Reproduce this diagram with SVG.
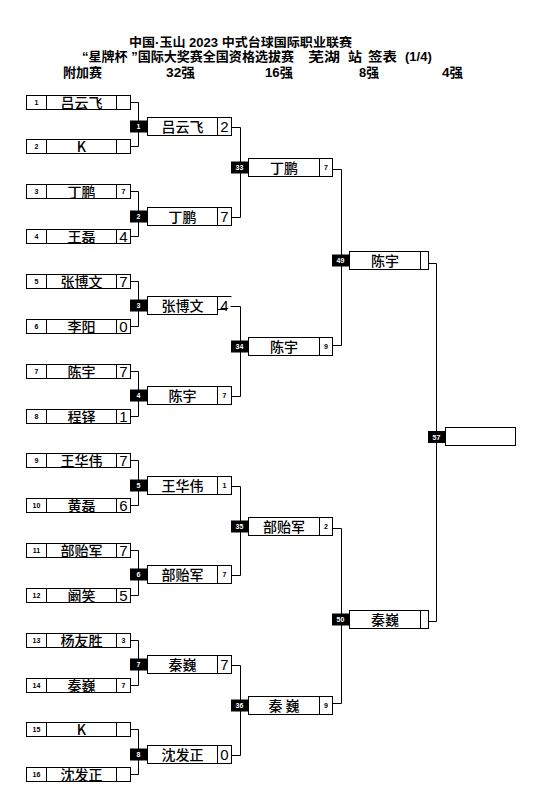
<svg xmlns="http://www.w3.org/2000/svg" width="543" height="793" viewBox="0 0 543 793">
<style>
.bx{fill:#fff;stroke:#000;stroke-width:1}
.ln{stroke:#000;stroke-width:1;fill:none}
.con{fill:none;stroke:#000;stroke-width:1}
.mb{fill:#000}
.mt{fill:#fff;font-family:"Liberation Sans",sans-serif;font-weight:bold;font-size:7px;text-anchor:middle}
.sd{fill:#000;font-family:"Liberation Sans",sans-serif;font-weight:bold;font-size:7px;text-anchor:middle}
.nm{fill:#000;font-family:"Noto Sans CJK SC",sans-serif;font-weight:500;font-size:14px;text-anchor:middle}
.sL{fill:#000;font-family:"Liberation Sans",sans-serif;font-size:15px;text-anchor:middle}
.sS{fill:#000;font-family:"Liberation Sans",sans-serif;font-weight:bold;font-size:7px;text-anchor:middle}
.hd{fill:#000;font-family:"Liberation Sans","Noto Sans CJK SC",sans-serif;font-weight:bold}
</style>
<rect width="543" height="793" fill="#fff"/>
<g id="header">
<text class="hd" x="240.5" y="46.5" font-size="12.5" text-anchor="middle" textLength="223" lengthAdjust="spacingAndGlyphs">中国·玉山 2023 中式台球国际职业联赛</text>
<text class="hd" x="82" y="61" font-size="13" textLength="212" lengthAdjust="spacingAndGlyphs">“星牌杯 ”国际大奖赛全国资格选拔赛</text>
<text class="hd" x="308" y="61" font-size="13" textLength="32" lengthAdjust="spacingAndGlyphs">芜湖</text>
<text class="hd" x="348" y="61" font-size="13" textLength="14" lengthAdjust="spacingAndGlyphs">站</text>
<text class="hd" x="368" y="61" font-size="13" textLength="29" lengthAdjust="spacingAndGlyphs">签表</text>
<text class="hd" x="405" y="61" font-size="13">(1/4)</text>
<text class="hd" x="63" y="76.5" font-size="13" textLength="39" lengthAdjust="spacingAndGlyphs">附加赛</text>
<text class="hd" x="166" y="76.5" font-size="13" textLength="29" lengthAdjust="spacingAndGlyphs">32强</text>
<text class="hd" x="265" y="76.5" font-size="13" textLength="28" lengthAdjust="spacingAndGlyphs">16强</text>
<text class="hd" x="359" y="76.5" font-size="13" textLength="20" lengthAdjust="spacingAndGlyphs">8强</text>
<text class="hd" x="442" y="76.5" font-size="13" textLength="21" lengthAdjust="spacingAndGlyphs">4强</text>
</g>
<g id="connectors">
<path class="con" d="M130.5 102.5H138.5V146.5H130.5"/>
<path class="con" d="M130.5 191.5H138.5V236.5H130.5"/>
<path class="con" d="M130.5 281.5H138.5V326.5H130.5"/>
<path class="con" d="M130.5 371.5H138.5V416.5H130.5"/>
<path class="con" d="M130.5 460.5H138.5V505.5H130.5"/>
<path class="con" d="M130.5 550.5H138.5V595.5H130.5"/>
<path class="con" d="M130.5 640.5H138.5V685.5H130.5"/>
<path class="con" d="M130.5 729.5H138.5V774.5H130.5"/>
<path class="con" d="M231.5 127.5H240.5V217.5H231.5"/>
<path class="con" d="M230.5 306.5H240.5V396.5H231.5"/>
<path class="con" d="M231.5 486.5H240.5V575.5H231.5"/>
<path class="con" d="M231.5 665.5H240.5V755.5H231.5"/>
<path class="con" d="M332.5 169.5H341.5V345.5H332.5"/>
<path class="con" d="M332.5 528.5H341.5V703.5H332.5"/>
<path class="con" d="M428.5 263.5H436.5V621.5H428.5"/>
</g>
<g id="p1"><rect class="bx" x="26.5" y="95.5" width="104" height="14"/><path class="ln" d="M46.5 95.5V109.5M116.5 95.5V109.5"/><text class="sd" x="36.5" y="105">1</text><text class="nm" x="81.5" y="107.5">吕云飞</text></g>
<g id="p2"><rect class="bx" x="26.5" y="139.5" width="104" height="14"/><path class="ln" d="M46.5 139.5V153.5M116.5 139.5V153.5"/><text class="sd" x="36.5" y="149">2</text><text class="nm" x="81.5" y="151.5">K</text></g>
<g id="p3"><rect class="bx" x="26.5" y="184.5" width="104" height="14"/><path class="ln" d="M46.5 184.5V198.5M116.5 184.5V198.5"/><text class="sd" x="36.5" y="194">3</text><text class="nm" x="81.5" y="196.5">丁鹏</text><text class="sS" x="123.5" y="194">7</text></g>
<g id="p4"><rect class="bx" x="26.5" y="229.5" width="104" height="14"/><path class="ln" d="M46.5 229.5V243.5M116.5 229.5V243.5"/><text class="sd" x="36.5" y="239">4</text><text class="nm" x="81.5" y="241.5">王磊</text><text class="sL" x="123.5" y="242">4</text></g>
<g id="p5"><rect class="bx" x="26.5" y="274.5" width="104" height="14"/><path class="ln" d="M46.5 274.5V288.5M116.5 274.5V288.5"/><text class="sd" x="36.5" y="284">5</text><text class="nm" x="81.5" y="286.5">张博文</text><text class="sL" x="123.5" y="287">7</text></g>
<g id="p6"><rect class="bx" x="26.5" y="319.5" width="104" height="14"/><path class="ln" d="M46.5 319.5V333.5M116.5 319.5V333.5"/><text class="sd" x="36.5" y="329">6</text><text class="nm" x="81.5" y="331.5">李阳</text><text class="sL" x="123.5" y="332">0</text></g>
<g id="p7"><rect class="bx" x="26.5" y="364.5" width="104" height="14"/><path class="ln" d="M46.5 364.5V378.5M116.5 364.5V378.5"/><text class="sd" x="36.5" y="374">7</text><text class="nm" x="81.5" y="376.5">陈宇</text><text class="sL" x="123.5" y="377">7</text></g>
<g id="p8"><rect class="bx" x="26.5" y="409.5" width="104" height="14"/><path class="ln" d="M46.5 409.5V423.5M116.5 409.5V423.5"/><text class="sd" x="36.5" y="419">8</text><text class="nm" x="81.5" y="421.5">程铎</text><text class="sL" x="123.5" y="422">1</text></g>
<g id="p9"><rect class="bx" x="26.5" y="453.5" width="104" height="14"/><path class="ln" d="M46.5 453.5V467.5M116.5 453.5V467.5"/><text class="sd" x="36.5" y="463">9</text><text class="nm" x="81.5" y="465.5">王华伟</text><text class="sL" x="123.5" y="466">7</text></g>
<g id="p10"><rect class="bx" x="26.5" y="498.5" width="104" height="14"/><path class="ln" d="M46.5 498.5V512.5M116.5 498.5V512.5"/><text class="sd" x="36.5" y="508">10</text><text class="nm" x="81.5" y="510.5">黄磊</text><text class="sL" x="123.5" y="511">6</text></g>
<g id="p11"><rect class="bx" x="26.5" y="543.5" width="104" height="14"/><path class="ln" d="M46.5 543.5V557.5M116.5 543.5V557.5"/><text class="sd" x="36.5" y="553">11</text><text class="nm" x="81.5" y="555.5">部贻军</text><text class="sL" x="123.5" y="556">7</text></g>
<g id="p12"><rect class="bx" x="26.5" y="588.5" width="104" height="14"/><path class="ln" d="M46.5 588.5V602.5M116.5 588.5V602.5"/><text class="sd" x="36.5" y="598">12</text><text class="nm" x="81.5" y="600.5">阚笑</text><text class="sL" x="123.5" y="601">5</text></g>
<g id="p13"><rect class="bx" x="26.5" y="633.5" width="104" height="14"/><path class="ln" d="M46.5 633.5V647.5M116.5 633.5V647.5"/><text class="sd" x="36.5" y="643">13</text><text class="nm" x="81.5" y="645.5">杨友胜</text><text class="sS" x="123.5" y="643">3</text></g>
<g id="p14"><rect class="bx" x="26.5" y="678.5" width="104" height="14"/><path class="ln" d="M46.5 678.5V692.5M116.5 678.5V692.5"/><text class="sd" x="36.5" y="688">14</text><text class="nm" x="81.5" y="690.5">秦巍</text><text class="sS" x="123.5" y="688">7</text></g>
<g id="p15"><rect class="bx" x="26.5" y="722.5" width="104" height="14"/><path class="ln" d="M46.5 722.5V736.5M116.5 722.5V736.5"/><text class="sd" x="36.5" y="732">15</text><text class="nm" x="81.5" y="734.5">K</text></g>
<g id="p16"><rect class="bx" x="26.5" y="767.5" width="104" height="14"/><path class="ln" d="M46.5 767.5V781.5M116.5 767.5V781.5"/><text class="sd" x="36.5" y="777">16</text><text class="nm" x="81.5" y="779.5">沈发正</text></g>
<g id="m1"><rect class="mb" x="130" y="120.5" width="17" height="12"/><text class="mt" x="138.5" y="129">1</text><rect class="bx" x="147.5" y="117.5" width="84" height="18"/><path class="ln" d="M217.5 117.5V135.5"/><text class="nm" x="182.5" y="131.5">吕云飞</text><text class="sL" x="224.5" y="132">2</text></g>
<g id="m2"><rect class="mb" x="130" y="210.5" width="17" height="12"/><text class="mt" x="138.5" y="219">2</text><rect class="bx" x="147.5" y="207.5" width="84" height="18"/><path class="ln" d="M217.5 207.5V225.5"/><text class="nm" x="182.5" y="221.5">丁鹏</text><text class="sL" x="224.5" y="222">7</text></g>
<g id="m3"><rect class="mb" x="130" y="299.5" width="17" height="12"/><text class="mt" x="138.5" y="308">3</text><rect class="bx" x="147.5" y="296.5" width="70" height="18"/><path class="ln" d="M217.5 296.5H231.5M218 309.5H227"/><text class="nm" x="182.5" y="310.5">张博文</text><text class="sL" x="224.5" y="311">4</text></g>
<g id="m4"><rect class="mb" x="130" y="389.5" width="17" height="12"/><text class="mt" x="138.5" y="398">4</text><rect class="bx" x="147.5" y="386.5" width="84" height="18"/><path class="ln" d="M217.5 386.5V404.5"/><text class="nm" x="182.5" y="400.5">陈宇</text><text class="sS" x="224.5" y="398">7</text></g>
<g id="m5"><rect class="mb" x="130" y="479.5" width="17" height="12"/><text class="mt" x="138.5" y="488">5</text><rect class="bx" x="147.5" y="476.5" width="84" height="18"/><path class="ln" d="M217.5 476.5V494.5"/><text class="nm" x="182.5" y="490.5">王华伟</text><text class="sS" x="224.5" y="488">1</text></g>
<g id="m6"><rect class="mb" x="130" y="568.5" width="17" height="12"/><text class="mt" x="138.5" y="577">6</text><rect class="bx" x="147.5" y="565.5" width="84" height="18"/><path class="ln" d="M217.5 565.5V583.5"/><text class="nm" x="182.5" y="579.5">部贻军</text><text class="sS" x="224.5" y="577">7</text></g>
<g id="m7"><rect class="mb" x="130" y="658.5" width="17" height="12"/><text class="mt" x="138.5" y="667">7</text><rect class="bx" x="147.5" y="655.5" width="84" height="18"/><path class="ln" d="M217.5 655.5V673.5"/><text class="nm" x="182.5" y="669.5">秦巍</text><text class="sL" x="224.5" y="670">7</text></g>
<g id="m8"><rect class="mb" x="130" y="748.5" width="17" height="12"/><text class="mt" x="138.5" y="757">8</text><rect class="bx" x="147.5" y="745.5" width="84" height="18"/><path class="ln" d="M217.5 745.5V763.5"/><text class="nm" x="182.5" y="759.5">沈发正</text><text class="sL" x="224.5" y="760">0</text></g>
<g id="m33"><rect class="mb" x="231" y="161.5" width="17" height="12"/><text class="mt" x="239.5" y="170">33</text><rect class="bx" x="248.5" y="158.5" width="84" height="18"/><path class="ln" d="M319.5 158.5V176.5"/><text class="nm" x="284" y="172.5">丁鹏</text><text class="sS" x="326" y="170">7</text></g>
<g id="m34"><rect class="mb" x="231" y="340.5" width="17" height="12"/><text class="mt" x="239.5" y="349">34</text><rect class="bx" x="248.5" y="337.5" width="84" height="18"/><path class="ln" d="M319.5 337.5V355.5"/><text class="nm" x="284" y="351.5">陈宇</text><text class="sS" x="326" y="349">9</text></g>
<g id="m35"><rect class="mb" x="231" y="520.5" width="17" height="12"/><text class="mt" x="239.5" y="529">35</text><rect class="bx" x="248.5" y="517.5" width="84" height="18"/><path class="ln" d="M319.5 517.5V535.5"/><text class="nm" x="284" y="531.5">部贻军</text><text class="sS" x="326" y="529">2</text></g>
<g id="m36"><rect class="mb" x="231" y="699.5" width="17" height="12"/><text class="mt" x="239.5" y="708">36</text><rect class="bx" x="248.5" y="696.5" width="84" height="18"/><path class="ln" d="M319.5 696.5V714.5"/><text class="nm" x="284" y="710.5">秦 巍</text><text class="sS" x="326" y="708">9</text></g>
<g id="m49"><rect class="mb" x="332" y="254.5" width="17" height="12"/><text class="mt" x="340.5" y="263">49</text><rect class="bx" x="349.5" y="251.5" width="79" height="18"/><path class="ln" d="M420.5 251.5V269.5"/><text class="nm" x="385" y="265.5">陈宇</text></g>
<g id="m50"><rect class="mb" x="332" y="613.5" width="17" height="12"/><text class="mt" x="340.5" y="622">50</text><rect class="bx" x="349.5" y="610.5" width="79" height="18"/><path class="ln" d="M420.5 610.5V628.5"/><text class="nm" x="385" y="624.5">秦巍</text></g>
<g id="m57"><rect class="mb" x="428" y="431" width="17" height="12"/><text class="mt" x="436.5" y="439.5">57</text><rect class="bx" x="445.5" y="427.5" width="70" height="18"/></g>
</svg>
